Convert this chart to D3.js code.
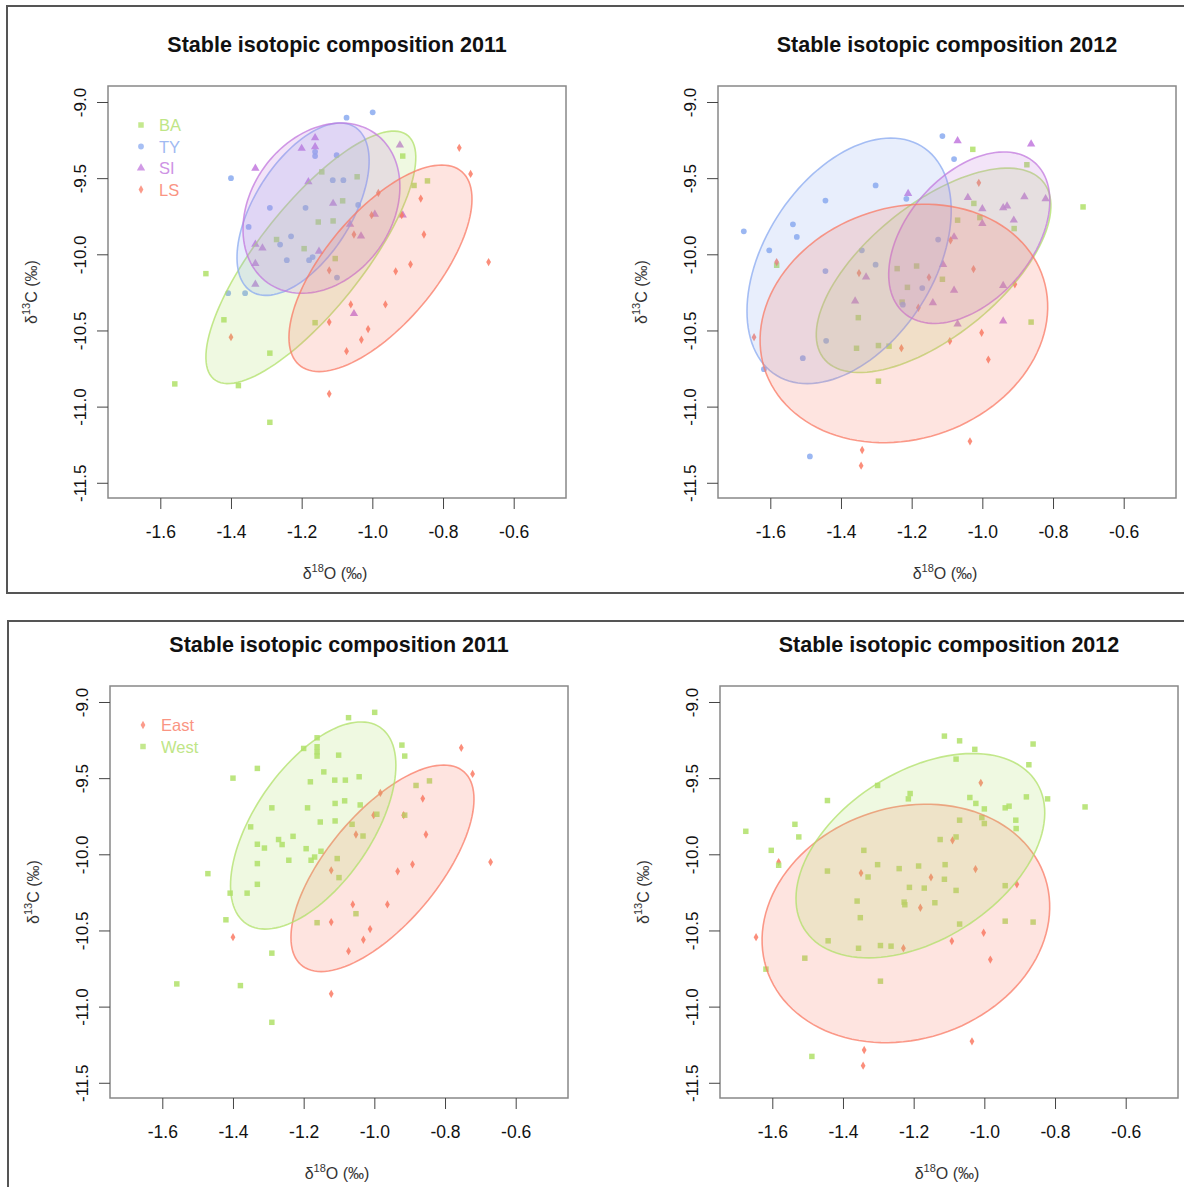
<!DOCTYPE html>
<html>
<head>
<meta charset="utf-8">
<script src="https://cdn.jsdelivr.net/npm/d3@7"></script>
<style>
body { margin: 0; background: #fff; }
svg { display: block; }
text { font-family: "Liberation Sans", Arial, sans-serif; }
</style>
</head>
<body>
<svg width="1184" height="1187"></svg>
<script>
/*------------------------
  ------ VARIABLES -------
  ------------------------*/

// input : [d18O, d13C]
var ba2011 = [[-1.143,-9.459],[-1.084,-9.649],[-1.153,-9.788],[-1.111,-9.781],[-1.271,-9.903],
              [-1.193,-9.963],[-1.105,-10.028],[-1.471,-10.127],[-1.420,-10.430],[-1.162,-10.449],
              [-1.290,-10.649],[-1.559,-10.851],[-1.379,-10.862],[-1.290,-11.103],[-0.914,-9.355],
              [-0.844,-9.518],[-0.882,-9.548],[-1.043,-9.491]];
var ty2011 = [[-1.073,-9.103],[-0.999,-9.068],[-1.400,-9.500],[-1.162,-9.327],[-1.162,-9.355],
              [-1.101,-9.349],[-1.112,-9.513],[-1.082,-9.513],[-1.290,-9.695],[-1.189,-9.695],
              [-1.350,-9.820],[-1.230,-9.882],[-1.261,-9.936],[-1.242,-10.039],[-1.179,-10.039],
              [-1.169,-10.018],[-1.100,-10.153],[-1.408,-10.255],[-1.360,-10.255],[-1.040,-9.676]];
var si2011 = [[-1.331,-9.436],[-1.162,-9.235],[-1.200,-9.305],[-1.162,-9.294],[-1.181,-9.524],
              [-1.111,-9.666],[-1.331,-9.934],[-1.311,-9.959],[-1.151,-9.980],[-1.331,-10.061],
              [-1.331,-10.197],[-0.922,-9.283],[-0.993,-9.737],[-0.914,-9.743],[-1.063,-9.803],
              [-1.032,-9.880],[-1.052,-10.390]];
var ls2011 = [[-1.122,-10.105],[-1.400,-10.544],[-1.122,-10.445],[-1.073,-10.636],[-1.122,-10.916],
              [-0.754,-9.301],[-0.722,-9.472],[-0.983,-9.597],[-0.863,-9.634],[-1.002,-9.743],
              [-0.917,-9.743],[-1.052,-9.870],[-0.854,-9.870],[-0.892,-10.066],[-0.934,-10.112],
              [-0.671,-10.051],[-1.061,-10.329],[-0.963,-10.329],[-1.012,-10.491],[-1.031,-10.561]];

var ba2012 = [[-1.582,-10.072],[-1.241,-10.094],[-1.351,-10.416],[-1.356,-10.617],[-1.294,-10.599],
              [-1.264,-10.603],[-1.294,-10.833],[-1.027,-9.311],[-0.874,-9.412],[-1.024,-9.666],
              [-0.715,-9.689],[-1.070,-9.776],[-1.007,-9.759],[-0.910,-9.831],[-1.186,-10.077],
              [-1.113,-10.164],[-1.212,-10.217],[-1.227,-10.314],[-0.862,-10.445]];
var ty2012 = [[-1.675,-9.849],[-1.302,-9.548],[-1.444,-9.647],[-1.536,-9.803],[-1.525,-9.886],
              [-1.603,-9.974],[-1.341,-9.974],[-1.302,-10.068],[-1.444,-10.110],[-1.442,-10.568],
              [-1.508,-10.682],[-1.618,-10.754],[-1.488,-11.327],[-1.113,-9.224],[-1.080,-9.375],
              [-1.215,-9.636],[-1.125,-9.903],[-1.170,-10.222],[-1.225,-10.331]];
var si2012 = [[-1.329,-10.149],[-1.360,-10.307],[-1.070,-9.255],[-0.862,-9.276],[-1.210,-9.601],
              [-1.041,-9.627],[-1.000,-9.702],[-0.941,-9.695],[-0.930,-9.684],[-0.881,-9.623],
              [-0.821,-9.636],[-1.000,-9.798],[-0.911,-9.776],[-1.080,-9.886],[-1.111,-10.068],
              [-1.080,-10.237],[-0.941,-10.206],[-1.140,-10.318],[-1.070,-10.458],[-0.941,-10.439]];
var ls2012 = [[-1.582,-10.051],[-1.349,-10.123],[-1.646,-10.544],[-1.340,-11.285],[-1.343,-11.388],
              [-1.010,-9.531],[-1.090,-9.908],[-1.025,-10.097],[-1.151,-10.151],[-0.908,-10.197],
              [-1.181,-10.351],[-1.002,-10.515],[-1.092,-10.570],[-1.229,-10.616],[-0.983,-10.691],
              [-1.035,-11.228]];

// ellipses : [centre x, centre y, sd x, sd y, correlation]
var ell_ba2011 = [-1.174, -10.020, 0.297, 0.829, 0.79];
var ell_ty2011 = [-1.196, -9.704, 0.187, 0.566, 0.56];
var ell_si2011 = [-1.144, -9.697, 0.222, 0.559, 0.25];
var ell_ls2011 = [-0.977, -10.092, 0.259, 0.678, 0.67];
var ell_west2011 = [-1.173, -9.811, 0.234, 0.680, 0.58];

var ell_ba2012 = [-1.138, -10.105, 0.332, 0.671, 0.63];
var ell_ty2012 = [-1.377, -10.043, 0.289, 0.806, 0.41];
var ell_si2012 = [-1.037, -9.891, 0.228, 0.563, 0.43];
var ell_ls2012 = [-1.222, -10.454, 0.407, 0.783, 0.14];
var ell_west2012 = [-1.181, -10.009, 0.352, 0.671, 0.42];

var x_ticks = [-1.6, -1.4, -1.2, -1.0, -0.8, -0.6];
var y_ticks = [-9.0, -9.5, -10.0, -10.5, -11.0, -11.5];
var x_lim = [-1.748, -0.452];
var y_lim = [-8.895, -11.6];

var titles = ["Stable isotopic composition 2011", "Stable isotopic composition 2012"];

// display
var col = {ba: "#b0e068", ty: "#8aaaf0", si: "#c278de", ls: "#fa7a64"};
var plot = {width: 458, height: 412};
var sym = {
    sq: d3.symbol().type(d3.symbolSquare).size(30),
    ci: d3.symbol().type(d3.symbolCircle).size(26),
    tr: d3.symbol().type(d3.symbolTriangle).size(30),
    di: d3.symbol().type(d3.symbolDiamond).size(20)
};

var svg = d3.select("svg");

var groups2011 = [
    {name: "BA", pts: ba2011, ell: ell_ba2011, color: col.ba, sym: sym.sq},
    {name: "TY", pts: ty2011, ell: ell_ty2011, color: col.ty, sym: sym.ci},
    {name: "SI", pts: si2011, ell: ell_si2011, color: col.si, sym: sym.tr},
    {name: "LS", pts: ls2011, ell: ell_ls2011, color: col.ls, sym: sym.di}];
var groups2012 = [
    {name: "BA", pts: ba2012, ell: ell_ba2012, color: col.ba, sym: sym.sq},
    {name: "TY", pts: ty2012, ell: ell_ty2012, color: col.ty, sym: sym.ci},
    {name: "SI", pts: si2012, ell: ell_si2012, color: col.si, sym: sym.tr},
    {name: "LS", pts: ls2012, ell: ell_ls2012, color: col.ls, sym: sym.di}];
var ew2011 = [
    {name: "East", pts: ls2011, ell: ell_ls2011, color: col.ls, sym: sym.di},
    {name: "West", pts: ba2011.concat(ty2011, si2011), ell: ell_west2011, color: col.ba, sym: sym.sq}];
var ew2012 = [
    {name: "East", pts: ls2012, ell: ell_ls2012, color: col.ls, sym: sym.di},
    {name: "West", pts: ba2012.concat(ty2012, si2012), ell: ell_west2012, color: col.ba, sym: sym.sq}];

var panels = [
    {left: 108, top: 86, title: titles[0], groups: groups2011, legend: true},
    {left: 718, top: 86, title: titles[1], groups: groups2012, legend: false},
    {left: 110, top: 686, title: titles[0], groups: ew2011, legend: true},
    {left: 720, top: 686, title: titles[1], groups: ew2012, legend: false}];


/*------------------------
  ------- HELPERS --------
  ------------------------*/

// bivariate ellipse : x = cx + sx cos(t + d/2), y = cy + sy cos(t - d/2), d = acos(r)
function ellipse_pts(e) {
    var d = Math.acos(e[4]);
    return d3.range(0, 121).map(function(i) {
        var t = 2 * Math.PI * i / 120;
        return [e[0] + e[2] * Math.cos(t + d / 2), e[1] + e[3] * Math.cos(t - d / 2)];
    });
}


/*------------------------
  ---- DISPLAY FRAMES ----
  ------------------------*/

function display_frames() {
    svg.append("rect").attr("x", 7).attr("y", 6).attr("width", 1190).attr("height", 587)
        .attr("fill", "none").attr("stroke", "#555").attr("stroke-width", 2);
    svg.append("rect").attr("x", 8).attr("y", 621).attr("width", 1190).attr("height", 600)
        .attr("fill", "none").attr("stroke", "#555").attr("stroke-width", 2);
}


/*------------------------
  ---- DISPLAY PANELS ----
  ------------------------*/

function display_panel(p) {
    var x = d3.scaleLinear().domain(x_lim).range([0, plot.width]);
    var y = d3.scaleLinear().domain(y_lim).range([0, plot.height]);
    var line = d3.line().x(function(d) { return x(d[0]); }).y(function(d) { return y(d[1]); });

    var g = svg.append("g").attr("transform", "translate(" + p.left + "," + p.top + ")");

    // points
    p.groups.forEach(function(gr) {
        g.append("g").selectAll("path")
            .data(gr.pts)
            .enter()
            .append("path")
            .attr("d", gr.sym)
            .attr("transform", function(d) { return "translate(" + x(d[0]) + "," + y(d[1]) + ")"; })
            .attr("fill", gr.color)
            .attr("opacity", 0.85);
    });

    // ellipses
    p.groups.forEach(function(gr) {
        g.append("path")
            .attr("d", line(ellipse_pts(gr.ell)))
            .attr("fill", gr.color)
            .attr("fill-opacity", 0.2)
            .attr("stroke", gr.color)
            .attr("stroke-opacity", 0.75)
            .attr("stroke-width", 1.6);
    });

    // box
    g.append("rect")
        .attr("width", plot.width).attr("height", plot.height)
        .attr("fill", "none").attr("stroke", "#888").attr("stroke-width", 1.5);

    // x axis
    var xa = g.append("g").attr("transform", "translate(0," + plot.height + ")")
        .call(d3.axisBottom(x).tickValues(x_ticks).tickSize(11).tickPadding(17)
              .tickFormat(function(d) { return d.toFixed(1); }));
    xa.select(".domain").remove();
    xa.selectAll("line").attr("stroke", "#444");
    xa.selectAll("text").attr("font-size", 17.5).attr("fill", "#111")
        .attr("font-family", "Liberation Sans, Arial, sans-serif");

    // y axis
    var ya = g.append("g")
        .call(d3.axisLeft(y).tickValues(y_ticks).tickSize(11)
              .tickFormat(function(d) { return d.toFixed(1); }));
    ya.select(".domain").remove();
    ya.selectAll("line").attr("stroke", "#444");
    ya.selectAll("text")
        .attr("x", 0).attr("y", -22).attr("dy", null)
        .attr("text-anchor", "middle")
        .attr("transform", "rotate(-90)")
        .attr("font-size", 17).attr("fill", "#111")
        .attr("font-family", "Liberation Sans, Arial, sans-serif");

    // title
    g.append("text")
        .attr("x", plot.width / 2).attr("y", -34)
        .attr("text-anchor", "middle")
        .attr("font-size", 21.5).attr("font-weight", "bold").attr("fill", "#111")
        .text(p.title);

    // axis titles
    var xt = g.append("text")
        .attr("x", plot.width / 2 - 2).attr("y", plot.height + 81)
        .attr("text-anchor", "middle").attr("font-size", 16).attr("fill", "#333");
    xt.append("tspan").text("δ");
    xt.append("tspan").attr("font-size", 11).attr("dy", -7).text("18");
    xt.append("tspan").attr("dy", 7).text("O (‰)");

    var yt = g.append("text")
        .attr("transform", "translate(-71," + plot.height / 2 + ") rotate(-90)")
        .attr("text-anchor", "middle").attr("font-size", 16).attr("fill", "#333");
    yt.append("tspan").text("δ");
    yt.append("tspan").attr("font-size", 11).attr("dy", -7).text("13");
    yt.append("tspan").attr("dy", 7).text("C (‰)");

    // legend
    if (p.legend) {
        var lg = g.append("g").attr("transform", "translate(33,39)");
        lg.selectAll("path")
            .data(p.groups)
            .enter()
            .append("path")
            .attr("d", function(d) { return d.sym(); })
            .attr("transform", function(d, i) { return "translate(0," + (i * 21.5) + ")"; })
            .attr("fill", function(d) { return d.color; })
            .attr("opacity", 0.75);
        lg.selectAll("text")
            .data(p.groups)
            .enter()
            .append("text")
            .attr("x", 18)
            .attr("y", function(d, i) { return i * 21.5 + 6; })
            .attr("font-size", 16.5)
            .attr("fill", function(d) { return d.color; })
            .attr("opacity", 0.8)
            .text(function(d) { return d.name; });
    }
}


/*------------------
  ------ RUN -------
  ------------------*/

display_frames();
panels.forEach(display_panel);
</script>
</body>
</html>
